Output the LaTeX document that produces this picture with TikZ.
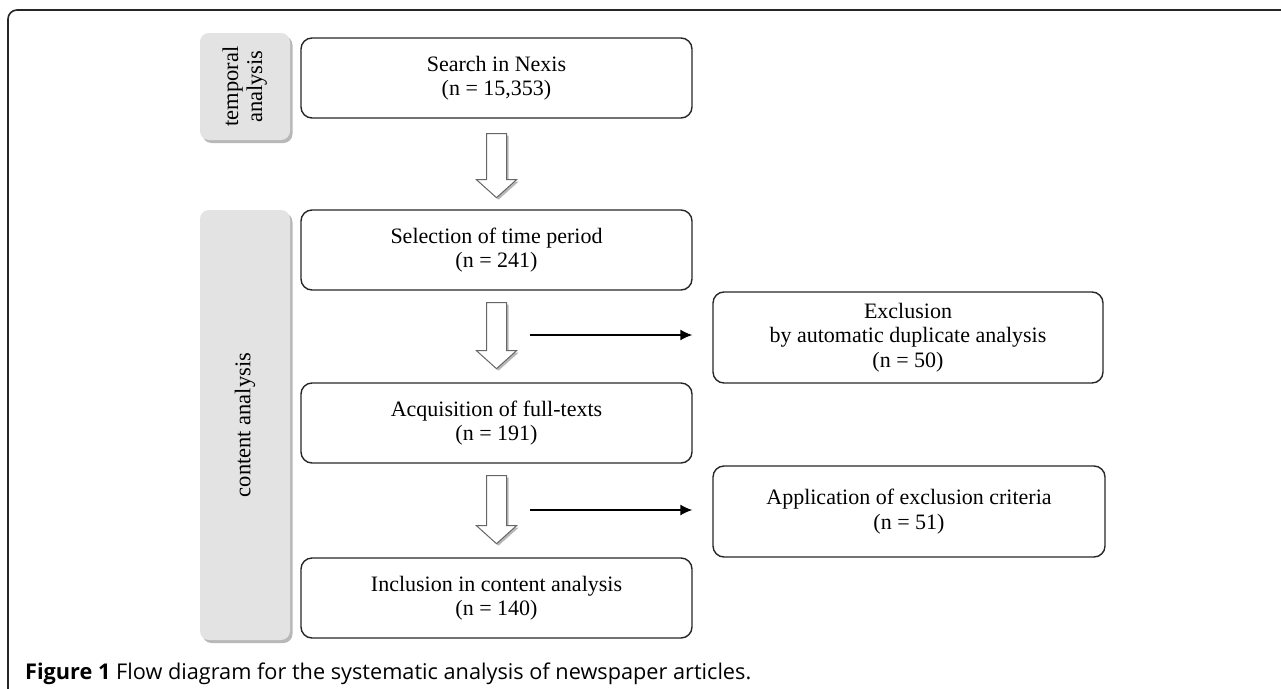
\documentclass[tikz,border=0pt]{standalone}
\usepackage{fontspec}
\setmainfont{Liberation Serif}
\newfontfamily\capfont{Open Sans}
\usetikzlibrary{shadows,calc,arrows.meta}
\begin{document}
\begin{tikzpicture}[x=1pt,y=-1pt,
  box/.style={draw=black!85,line width=1.4pt,rounded corners=11pt,align=center,
    font=\fontsize{22}{24.5}\selectfont,inner sep=0pt},
  phase/.style={fill=black!11,rounded corners=9pt,align=center,
    font=\fontsize{22.5}{26}\selectfont,inner sep=0pt,
    drop shadow={shadow xshift=2.5pt,shadow yshift=-3pt,fill=black!35,opacity=0.8}},
  hollow/.style={draw=black!60,fill=white,line width=1pt,
    drop shadow={shadow xshift=2pt,shadow yshift=-2pt,fill=black!35,opacity=0.8}},
  side/.style={line width=1.4pt,-{Latex[length=12pt,width=11pt]},shorten >=20pt}]
\useasboundingbox (0,0) rectangle (1281,688);
% outer frame
\draw[black!85,line width=1.6pt,rounded corners=9pt] (8,700) -- (8,10) -- (1300,10);
% phase labels
\node[phase,minimum width=90pt,minimum height=107pt] (t) at (245,86.5)
  {\rotatebox{90}{\begin{tabular}{c}temporal\\[-2pt]analysis\end{tabular}}};
\node[phase,minimum width=90pt,minimum height=430pt] (c) at (245,425)
  {\rotatebox{90}{content analysis}};
% boxes
\node[box,minimum width=391pt,minimum height=80pt] (b1) at (496.5,78) {Search in Nexis\\(n = 15,353)};
\node[box,minimum width=391pt,minimum height=80pt] (b2) at (496.5,250) {Selection of time period\\(n = 241)};
\node[box,minimum width=391pt,minimum height=80pt] (b3) at (496.5,423) {Acquisition of full-texts\\(n = 191)};
\node[box,minimum width=391pt,minimum height=80pt] (b4) at (496.5,598) {Inclusion in content analysis\\(n = 140)};
\node[box,minimum width=390pt,minimum height=91pt] (r1) at (908,337.5) {Exclusion\\by automatic duplicate analysis\\(n = 50)};
\node[box,minimum width=392pt,minimum height=91pt] (r2) at (909,511.5) {Application of exclusion criteria\\(n = 51)};
% hollow arrows
\foreach \u/\l/\top/\len in {b1/b2/15/64, b2/b3/12/66, b3/b4/12/68}{
  \path[hollow] ($(\u.south)+(-10,\top)$) -- ++(20,0) -- ++(0,\len-18) -- ++(10,0)
     -- ($(\u.south)+(0,\top+\len)$) -- ($(\u.south)+(-20,\top+\len-18)$) -- ++(10,0) -- cycle;
}
% side arrows
\coordinate (h1) at (530,335);
\coordinate (h2) at (530,510);
\draw[side] (h1) -- (h1 -| r1.west);
\draw[side] (h2) -- (h2 -| r2.west);
% caption
\node[anchor=base west,inner sep=0pt,font=\capfont\fontsize{21.7}{24}\selectfont] (cap) at (25,679)
  {\textbf{Figure 1} Flow diagram for the systematic analysis of newspaper articles.};
\end{tikzpicture}
\end{document}
